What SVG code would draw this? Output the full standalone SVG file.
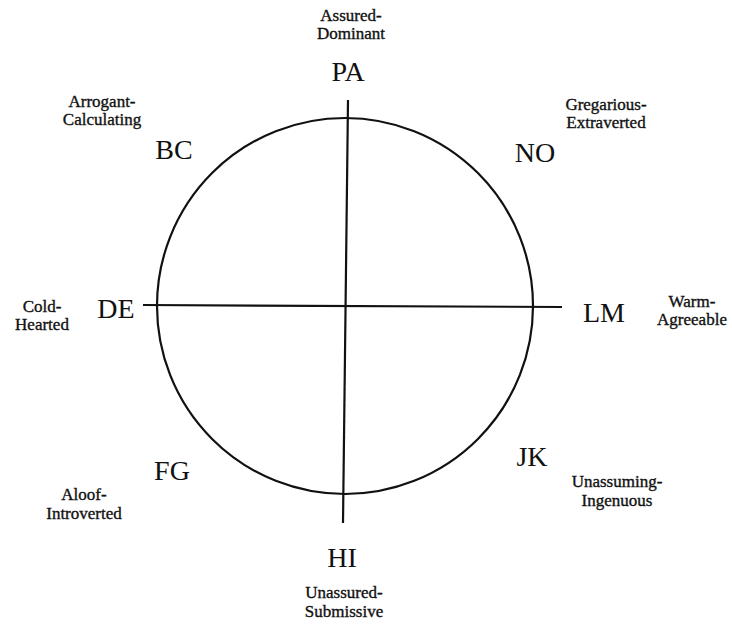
<svg xmlns="http://www.w3.org/2000/svg" width="732" height="625" viewBox="0 0 732 625">
<style>
.big{font-family:"Liberation Serif","Times New Roman",serif;font-size:28px;fill:#111;text-anchor:middle}
.sm{font-family:"Liberation Serif","Times New Roman",serif;font-size:17px;fill:#111;text-anchor:middle;stroke:#111;stroke-width:0.35}
.ln{stroke:#111;stroke-width:2.2;fill:none}
</style>
<rect width="732" height="625" fill="#fff"/>
<g id="connectors">
<circle class="ln" cx="345" cy="306" r="188"/>
<line class="ln" x1="348" y1="100" x2="343" y2="523"/>
<line class="ln" x1="143" y1="305" x2="562" y2="307"/>
</g>
<g id="PA"><text class="big" x="348" y="81">PA</text><text class="sm" x="351" y="21">Assured-</text><text class="sm" x="351" y="39">Dominant</text></g>
<g id="BC"><text class="big" x="174" y="159">BC</text><text class="sm" x="102" y="107">Arrogant-</text><text class="sm" x="102" y="125">Calculating</text></g>
<g id="NO"><text class="big" x="535" y="162">NO</text><text class="sm" x="606" y="110">Gregarious-</text><text class="sm" x="606" y="128">Extraverted</text></g>
<g id="DE"><text class="big" x="116" y="318">DE</text><text class="sm" x="42" y="312">Cold-</text><text class="sm" x="42" y="330">Hearted</text></g>
<g id="LM"><text class="big" x="604" y="322">LM</text><text class="sm" x="692" y="307">Warm-</text><text class="sm" x="692" y="325">Agreeable</text></g>
<g id="FG"><text class="big" x="172" y="480">FG</text><text class="sm" x="84" y="500">Aloof-</text><text class="sm" x="84" y="519">Introverted</text></g>
<g id="JK"><text class="big" x="532" y="466">JK</text><text class="sm" x="617" y="487">Unassuming-</text><text class="sm" x="617" y="506">Ingenuous</text></g>
<g id="HI"><text class="big" x="342" y="567">HI</text><text class="sm" x="344" y="598">Unassured-</text><text class="sm" x="344" y="617">Submissive</text></g>
</svg>
